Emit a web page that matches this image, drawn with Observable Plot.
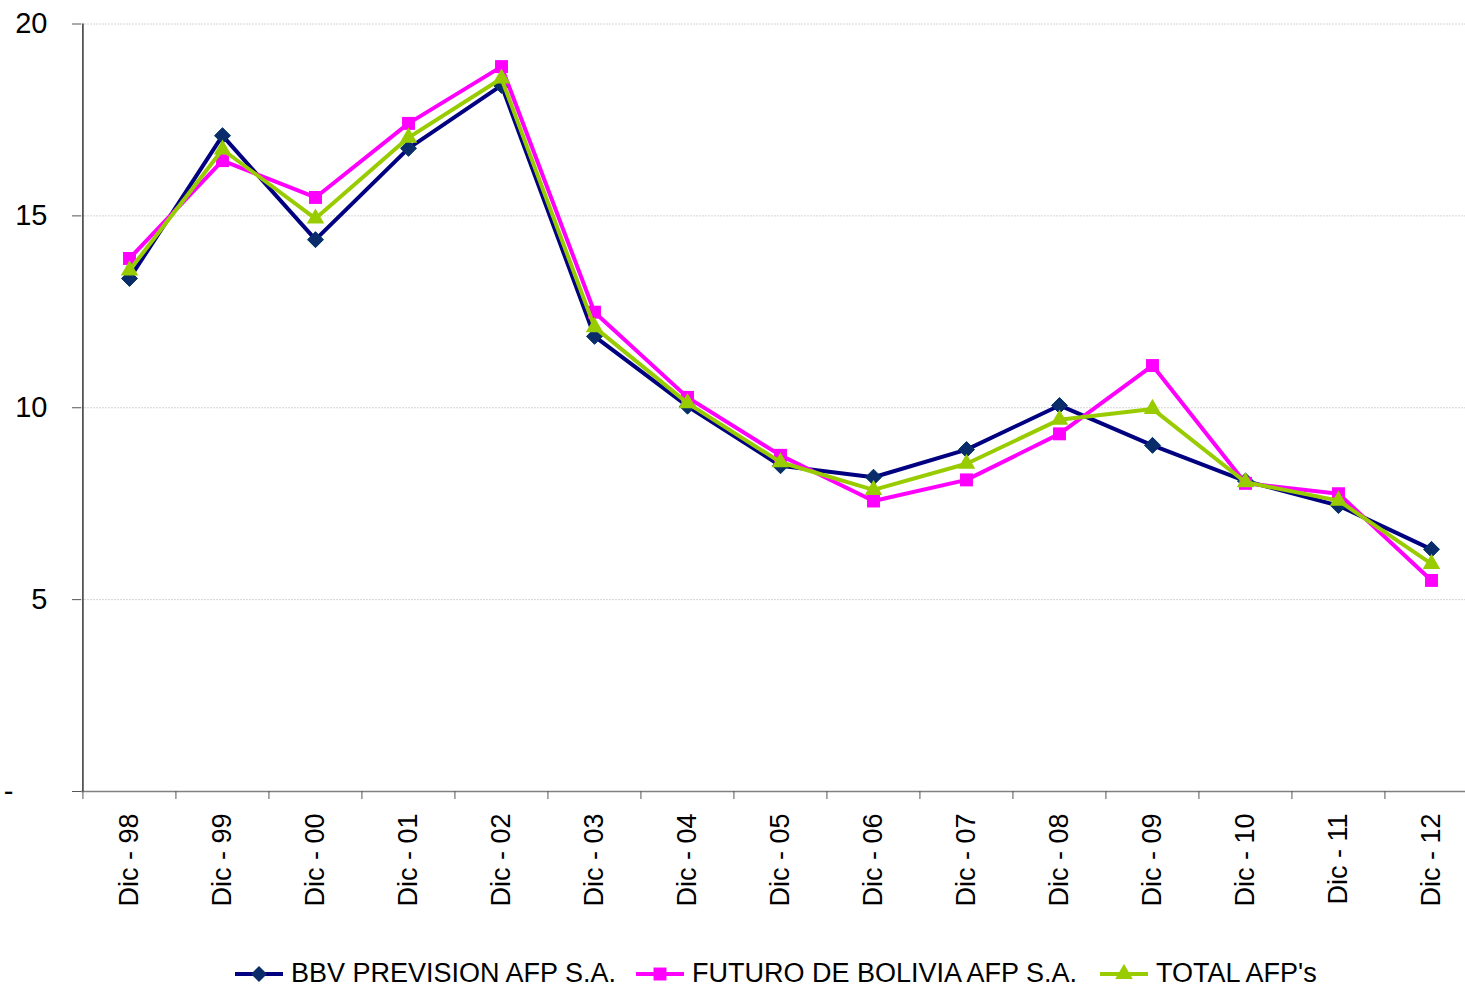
<!DOCTYPE html>
<html>
<head>
<meta charset="utf-8">
<script src="https://cdn.jsdelivr.net/npm/d3@7"></script>
<script src="https://cdn.jsdelivr.net/npm/@observablehq/plot@0.6"></script>
<style>
  html, body { margin: 0; padding: 0; background: #fff; overflow: hidden; }
  body { width: 1465px; height: 987px; font-family: "Liberation Sans", Arial, sans-serif; }
  #chart svg { display: block; }
  #legend { position: relative; height: 47px; }
  .item { position: absolute; top: 20px; display: flex; align-items: center; font-size: 27px; color: #000; line-height: 1; }
  .item svg { margin-right: 8px; }
</style>
</head>
<body>
<div id="chart"></div>
<div id="legend"></div>
<script>
const categories = ["Dic - 98","Dic - 99","Dic - 00","Dic - 01","Dic - 02","Dic - 03","Dic - 04","Dic - 05","Dic - 06","Dic - 07","Dic - 08","Dic - 09","Dic - 10","Dic - 11","Dic - 12"];
const bbvValues    = [13.37, 17.09, 14.38, 16.76, 18.40, 11.86, 10.04, 8.49, 8.19, 8.91, 10.06, 9.02, 8.09, 7.45, 6.31];
const futuroValues = [13.89, 16.44, 15.48, 17.41, 18.89, 12.49, 10.27, 8.76, 7.57, 8.12, 9.32, 11.10, 8.03, 7.76, 5.50];
const totalValues  = [13.58, 16.73, 14.93, 17.04, 18.58, 12.10, 10.12, 8.58, 7.86, 8.54, 9.69, 9.97, 8.06, 7.58, 5.93];
const seriesNames = ["BBV PREVISION AFP S.A.", "FUTURO DE BOLIVIA AFP S.A.", "TOTAL AFP's"];
const yTicks = [5, 10, 15, 20];

const styles = [
  {name: seriesNames[0], values: bbvValues, stroke: "#000080", fill: "#0a2c6a", symbol: "diamond2", r: 7.2},
  {name: seriesNames[1], values: futuroValues, stroke: "#ff00ff", fill: "#ff00ff", symbol: "square", r: 7.3},
  {name: seriesNames[2], values: totalValues, stroke: "#99cc00", fill: "#99cc00", symbol: "triangle", r: 6.5}
];

const rows = s => categories.map((c, i) => ({cat: c, value: s.values[i]}));
const step = 93.14;

const marks = [
  Plot.gridY(yTicks, {stroke: "#d4d4d4", strokeOpacity: 1, strokeWidth: 1, strokeDasharray: "2,1"}),
  Plot.ruleY([0], {stroke: "#808080", strokeWidth: 1.5}),
  Plot.ruleX([categories[0]], {dx: -step / 2, stroke: "#000", strokeWidth: 1.2}),
  Plot.axisY({ticks: [...yTicks, 0], tickFormat: () => "", tickSize: 9, stroke: "#555", label: null}),
  Plot.axisY({ticks: yTicks, tickSize: 0, tickPadding: 34, fontSize: 29, fill: "#000", label: null}),
  Plot.axisY({ticks: [0], tickSize: 0, tickPadding: 68, tickFormat: () => "-", fontSize: 29, fill: "#000", label: null}),
  Plot.axisX({tickSize: 8, dx: -step / 2, tickFormat: () => "", stroke: "#555", label: null}),
  Plot.axisX({tickSize: 0, tickPadding: 22, tickRotate: -90, fontSize: 27, fill: "#000", label: null})
];
for (const s of styles) {
  marks.push(Plot.line(rows(s), {x: "cat", y: "value", stroke: s.stroke, strokeWidth: 4, strokeLinejoin: "miter"}));
  marks.push(Plot.dot(rows(s), {x: "cat", y: "value", symbol: () => s.symbol, r: s.r, fill: s.fill, stroke: s.fill === s.stroke ? "none" : "#003366", strokeWidth: 1}));
}

const chart = Plot.plot({
  width: 1465,
  height: 940,
  marginLeft: 81,
  marginRight: 0,
  marginTop: 23.5,
  marginBottom: 149,
  style: {fontFamily: "'Liberation Sans', Arial, sans-serif", background: "#fff", color: "#000"},
  x: {type: "point", domain: categories, range: [128, 1432], padding: 0, label: null},
  y: {domain: [0, 20], label: null},
  symbol: {type: "identity"},
  marks
});
document.getElementById("chart").appendChild(chart);

// Legend
const legend = document.getElementById("legend");
const lefts = [235, 636, 1100];
styles.forEach((s, i) => {
  const item = document.createElement("div");
  item.className = "item";
  item.style.left = lefts[i] + "px";
  const sym = d3.symbol(d3["symbol" + {diamond2: "Diamond2", square: "Square", triangle: "Triangle"}[s.symbol]], Math.PI * s.r * s.r)();
  item.innerHTML = `<svg width="48" height="20" viewBox="0 0 48 20"><line x1="0" x2="48" y1="10" y2="10" stroke="${s.stroke}" stroke-width="4"/><path d="${sym}" transform="translate(24,10)" fill="${s.fill}"/></svg><span>${s.name}</span>`;
  legend.appendChild(item);
});
</script>
</body>
</html>
